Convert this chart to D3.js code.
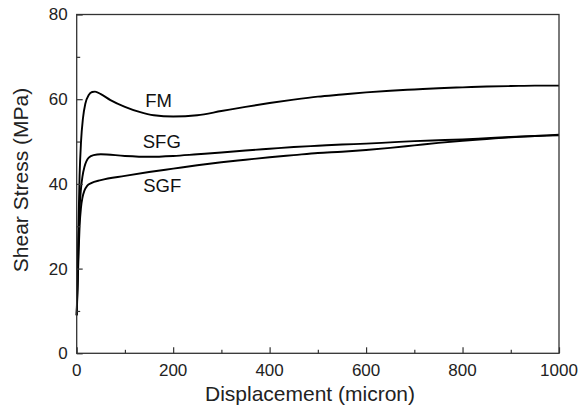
<!DOCTYPE html>
<html>
<head>
<meta charset="utf-8">
<script src="https://cdn.jsdelivr.net/npm/d3@7"></script>
<style>
  html, body { margin: 0; padding: 0; background: #fff; }
  svg { display: block; }
</style>
</head>
<body>
<svg id="chart" width="583" height="411"></svg>
<script>
// Displacement (micron) / shear stress (MPa)
const fmX  = [0, 2, 4, 6, 9, 13, 18, 25, 32, 38, 50, 70, 100, 130, 160, 200, 250, 300, 350, 400, 450, 500, 550, 600, 650, 700, 750, 800, 850, 900, 950, 1000];
const fmY  = [9, 20, 32, 42, 50, 55.5, 59, 61, 61.7, 61.8, 61.2, 59.8, 58.2, 57, 56.2, 55.9, 56.2, 57.2, 58.2, 59.1, 59.9, 60.6, 61.1, 61.6, 62, 62.3, 62.6, 62.8, 63, 63.1, 63.2, 63.2];

const sfgX = [0, 2, 4, 6, 9, 12, 16, 20, 25, 35, 50, 100, 150, 200, 250, 300, 350, 400, 450, 500, 550, 600, 650, 700, 750, 800, 850, 900, 950, 1000];
const sfgY = [9, 18, 27, 34, 39, 41.8, 44, 45.3, 46.2, 46.8, 47, 46.6, 46.4, 46.6, 47, 47.4, 47.9, 48.3, 48.7, 49, 49.3, 49.5, 49.8, 50.1, 50.3, 50.5, 50.8, 51.1, 51.3, 51.5];

const sgfX = [0, 2, 4, 6, 9, 12, 16, 22, 30, 50, 100, 150, 200, 250, 300, 350, 400, 450, 500, 550, 600, 650, 700, 750, 800, 850, 900, 950, 1000];
const sgfY = [9, 16, 24, 30, 34.5, 36.8, 38.4, 39.6, 40.2, 40.9, 41.9, 42.8, 43.6, 44.4, 45.1, 45.7, 46.3, 46.8, 47.3, 47.6, 48, 48.5, 49.1, 49.7, 50.2, 50.6, 51, 51.3, 51.6];

const seriesNames = ["FM", "SFG", "SGF"];
// label anchors in data units (displacement, stress)
const labelX = [142, 137, 138];
const labelY = [58.2, 48.5, 38.2];

const xTicks = [0, 200, 400, 600, 800, 1000];
const yTicks = [0, 20, 40, 60, 80];

const INK = "#000";
const AXIS = "#333";
const FONT = "'Liberation Sans', Arial, Helvetica, sans-serif";

const svg = d3.select("#chart");
const width = 583, height = 411;
const margin = { top: 14.5, right: 24, bottom: 57.7, left: 76.7 };
const innerWidth = width - margin.left - margin.right;
const innerHeight = height - margin.top - margin.bottom;

const g = svg.append("g")
  .attr("transform", `translate(${margin.left},${margin.top})`);

const x = d3.scaleLinear().domain([0, 1000]).range([0, innerWidth]);
const y = d3.scaleLinear().domain([0, 80]).range([innerHeight, 0]);

// Curves
const line = d3.line()
  .x(d => x(d[0]))
  .y(d => y(d[1]))
  .curve(d3.curveMonotoneX);

const curves = [
  d3.zip(fmX, fmY),
  d3.zip(sfgX, sfgY),
  d3.zip(sgfX, sgfY)
];

g.selectAll("path.curve")
  .data(curves)
  .join("path")
  .attr("class", "curve")
  .attr("fill", "none")
  .attr("stroke", INK)
  .attr("stroke-width", 1.9)
  .attr("stroke-linejoin", "round")
  .attr("d", line);

// Frame
g.append("rect")
  .attr("x", 0).attr("y", 0)
  .attr("width", innerWidth).attr("height", innerHeight)
  .attr("fill", "none")
  .attr("stroke", AXIS)
  .attr("stroke-width", 1.3);

// Ticks (inward)
const xAxis = g.append("g")
  .attr("transform", `translate(0,${innerHeight})`)
  .call(d3.axisBottom(x).tickValues(d3.range(0, 1001, 100)).tickSize(0).tickFormat(""));
xAxis.select(".domain").remove();
xAxis.selectAll(".tick line")
  .attr("y2", d => d % 200 === 0 ? -6 : -3.5)
  .attr("stroke", AXIS).attr("stroke-width", 1.2);

const yAxis = g.append("g")
  .call(d3.axisLeft(y).tickValues(d3.range(0, 81, 10)).tickSize(0).tickFormat(""));
yAxis.select(".domain").remove();
yAxis.selectAll(".tick line")
  .attr("x2", d => d % 20 === 0 ? 6 : 3.5)
  .attr("stroke", AXIS).attr("stroke-width", 1.2);

// Tick labels
g.selectAll("text.xt")
  .data(xTicks)
  .join("text")
  .attr("class", "xt")
  .attr("x", d => x(d))
  .attr("y", innerHeight + 23)
  .attr("text-anchor", "middle")
  .attr("font-family", FONT)
  .attr("font-size", 17)
  .attr("fill", "#222")
  .text(d => d);

g.selectAll("text.yt")
  .data(yTicks)
  .join("text")
  .attr("class", "yt")
  .attr("x", -9)
  .attr("y", d => y(d))
  .attr("dy", "0.35em")
  .attr("text-anchor", "end")
  .attr("font-family", FONT)
  .attr("font-size", 17)
  .attr("fill", "#222")
  .text(d => d);

// Axis titles
svg.append("text")
  .attr("x", 310)
  .attr("y", 401)
  .attr("text-anchor", "middle")
  .attr("font-family", FONT)
  .attr("font-size", 21)
  .attr("fill", "#222")
  .text("Displacement (micron)");

svg.append("text")
  .attr("transform", "translate(28,180) rotate(-90)")
  .attr("text-anchor", "middle")
  .attr("font-family", FONT)
  .attr("font-size", 21)
  .attr("fill", "#222")
  .text("Shear Stress (MPa)");

// Curve labels
g.selectAll("text.lab")
  .data(seriesNames)
  .join("text")
  .attr("class", "lab")
  .attr("x", (d, i) => x(labelX[i]))
  .attr("y", (d, i) => y(labelY[i]))
  .attr("font-family", FONT)
  .attr("font-size", 18.5)
  .attr("fill", "#111")
  .text(d => d);
</script>
</body>
</html>
